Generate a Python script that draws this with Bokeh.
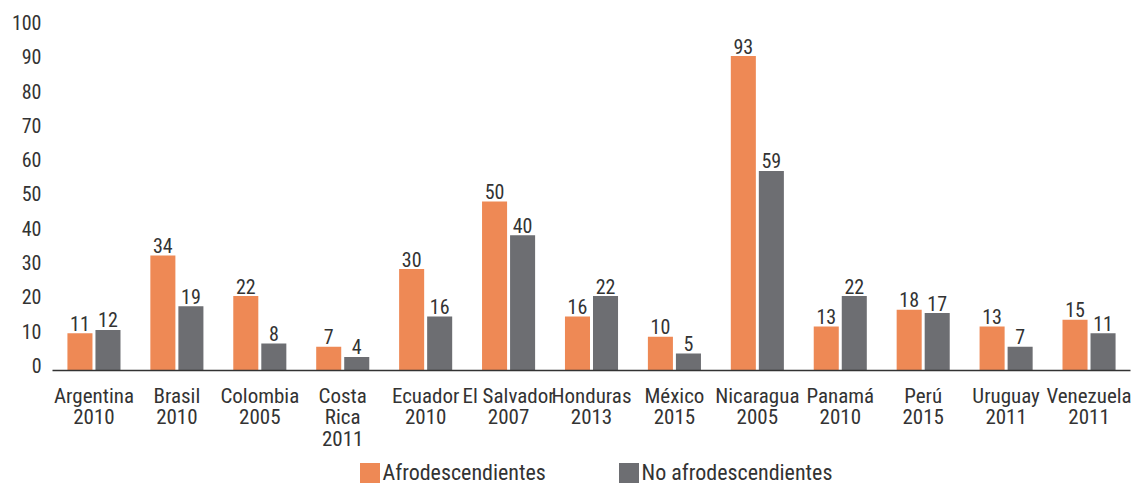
from bokeh.plotting import figure
from bokeh.layouts import column
from bokeh.models import (ColumnDataSource, FactorRange, Range1d, FixedTicker,
                          LinearAxis, Legend, LegendItem)
from bokeh.transform import dodge
from bokeh.core.properties import value
from bokeh.embed import file_html
from bokeh.resources import INLINE

countries = ["Argentina\n2010", "Brasil\n2010", "Colombia\n2005", "Costa\nRica\n2011",
             "Ecuador\n2010", "El Salvador\n2007", "Honduras\n2013", "México\n2015",
             "Nicaragua\n2005", "Panamá\n2010", "Perú\n2015", "Uruguay\n2011",
             "Venezuela\n2011"]
afro = [11, 34, 22, 7, 30, 50, 16, 10, 93, 13, 18, 13, 15]
no_afro = [12, 19, 8, 4, 16, 40, 22, 5, 59, 22, 17, 7, 11]
y_ticks = [0, 10, 20, 30, 40, 50, 60, 70, 80, 90, 100]
series_names = ["Afrodescendientes", "No afrodescendientes"]

FONT = "Roboto Condensed, DejaVu Sans Condensed, Roboto"
TXT = "#333333"
ORANGE = "#EE8955"
GRAY = "#6D6E72"
YMAX = 103.5

src = ColumnDataSource(dict(
    country=countries, afro=afro, no_afro=no_afro,
    afro_lbl=[str(v) for v in afro], no_afro_lbl=[str(v) for v in no_afro],
))

p = figure(width=1142, height=458, x_range=FactorRange(*countries),
           y_range=Range1d(0, YMAX), output_backend="svg", toolbar_location=None,
           min_border_left=52, min_border_right=12, min_border_top=20,
           min_border_bottom=88)
p.outline_line_color = None
p.grid.visible = False
p.yaxis.visible = False

p.vbar(x=dodge("country", -0.169, range=p.x_range), top="afro", width=0.302,
       source=src, color=ORANGE, line_color=None)
p.vbar(x=dodge("country", 0.169, range=p.x_range), top="no_afro", width=0.302,
       source=src, color=GRAY, line_color=None)

for off, col, lbl in [(-0.169, "afro", "afro_lbl"), (0.169, "no_afro", "no_afro_lbl")]:
    p.text(x=dodge("country", off, range=p.x_range), y=col, text=lbl, source=src,
           text_align="center", text_baseline="alphabetic", y_offset=-10,
           text_font=value(FONT), text_font_size="20px", text_color=TXT)

# the value axis labels of the original sit on their own, slightly wider scale
p.extra_y_ranges = {"lab": Range1d(-1.46, 100.58)}
yax = LinearAxis(y_range_name="lab", ticker=FixedTicker(ticks=y_ticks))
yax.axis_line_color = None
yax.major_tick_line_color = None
yax.minor_tick_line_color = None
yax.major_tick_out = 0
yax.major_tick_in = 0
yax.major_label_standoff = 11
yax.major_label_text_font = FONT
yax.major_label_text_font_size = "20px"
yax.major_label_text_color = TXT
p.add_layout(yax, "left")

xax = p.xaxis[0]
xax.axis_line_color = "#333333"
xax.axis_line_width = 1.5
xax.major_tick_line_color = None
xax.minor_tick_line_color = None
xax.major_tick_out = 0
xax.major_tick_in = 0
xax.major_label_standoff = 13
xax.major_label_text_font = FONT
xax.major_label_text_font_size = "21px"
xax.major_label_text_color = TXT
xax.major_label_text_line_height = 0.9
xax.major_label_orientation = "horizontal"

# legend strip below the chart (its own renderers lie far outside its visible range)
pl = figure(width=1142, height=25, x_range=p.x_range, y_range=Range1d(1000, 1001),
            output_backend="svg", toolbar_location=None, min_border=0,
            x_axis_location=None, y_axis_location=None)
pl.grid.visible = False
pl.outline_line_color = None
d1 = pl.vbar(x=dodge("country", -0.169, range=pl.x_range), top="afro", width=0.302,
             source=src, color=ORANGE, line_color=None)
d2 = pl.vbar(x=dodge("country", 0.169, range=pl.x_range), top="no_afro", width=0.302,
             source=src, color=GRAY, line_color=None)
lg = Legend(items=[LegendItem(label=series_names[0], renderers=[d1]),
                   LegendItem(label=series_names[1], renderers=[d2])],
            location=(304.5, -2), orientation="horizontal", padding=0, margin=0,
            spacing=0, glyph_width=25, glyph_height=25, label_height=25,
            label_width=233, label_standoff=1,
            border_line_color=None, background_fill_alpha=0,
            label_text_font=FONT, label_text_font_size="22px",
            label_text_color=TXT)
pl.add_layout(lg, "center")

open("out.html", "w").write(file_html(column(p, pl, spacing=0), INLINE))
